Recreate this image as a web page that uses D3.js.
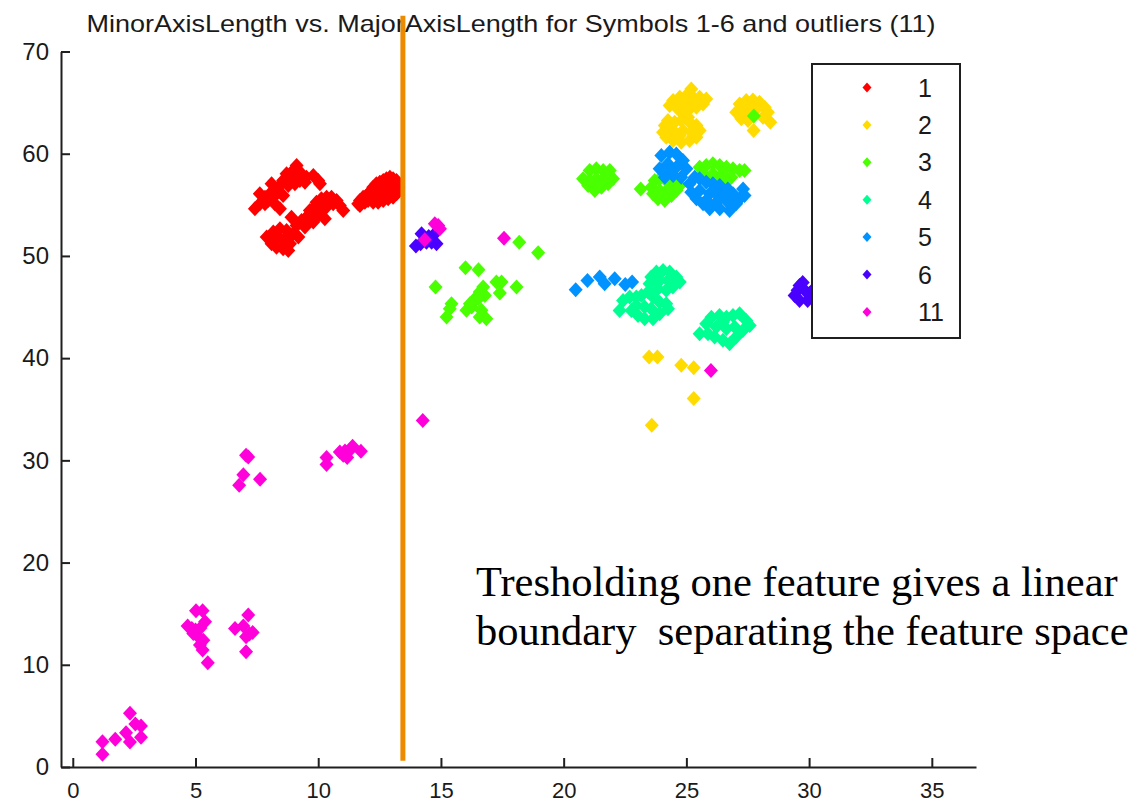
<!DOCTYPE html>
<html>
<head>
<meta charset="utf-8">
<script src="https://cdn.jsdelivr.net/npm/d3@7"></script>
<style>
  body { margin: 0; background: #fff; }
  text { font-family: "Liberation Sans", Arial, sans-serif; fill: #1a1a1a; }
</style>
</head>
<body>
<div id="chart"></div>
<script>
// ********** DATA **********
const classLabels = ['1', '2', '3', '4', '5', '6', '11'];
const classColors = ['#ff0000', '#ffdb00', '#49ff00', '#00ff92', '#0092ff', '#4900ff', '#ff00db'];

// [MajorAxisLength, MinorAxisLength]
const pointsClass1 = [
  [7.42,54.61],[7.62,55.10],[7.83,55.75],[8.03,56.08],[8.10,57.05],[8.30,56.40],[8.44,56.89],[8.57,57.38],
  [8.71,58.03],[8.85,57.54],[8.98,58.36],[9.12,58.85],[9.18,57.87],[9.32,58.03],[9.46,57.22],[9.05,57.05],
  [8.23,55.10],[8.44,54.61],[7.83,55.10],[7.62,56.08],[8.57,55.91],[7.96,55.42],[8.17,55.75],[8.78,56.89],
  [9.25,57.38],[9.39,57.70],[9.52,57.70],[9.80,57.87],[10.00,57.38],[10.07,57.05],
  [7.90,51.84],[8.10,51.19],[8.30,50.86],[8.57,50.70],[8.78,50.54],[8.17,52.33],[8.44,52.65],[8.71,52.49],
  [8.85,51.84],[8.98,52.16],[9.12,52.98],[9.32,53.47],[9.52,53.79],[9.66,54.45],[9.80,54.61],[9.93,55.26],
  [10.13,55.59],[10.34,55.75],[10.54,55.75],[10.75,55.42],[10.88,54.93],[11.02,54.45],[10.27,54.61],[10.07,54.45],
  [10.27,53.63],[9.80,53.31],[9.93,53.79],[9.46,52.82],[9.19,51.84],[8.57,51.51],[8.85,51.19],[10.41,55.10],
  [10.61,55.10],[10.00,55.10],[8.91,53.79],[8.30,52.00],[8.03,51.68],
  [11.70,55.42],[11.63,55.10],[11.83,55.75],[11.97,55.91],[12.10,56.24],[12.24,56.73],[12.37,57.05],[12.51,57.22],
  [12.65,57.38],[12.78,57.54],[12.92,57.70],[13.05,57.54],[13.19,57.38],[13.26,56.73],[13.19,56.08],[13.05,55.75],
  [12.85,55.59],[12.65,55.42],[12.44,55.26],[12.24,55.26],[12.03,55.42],[12.24,56.08],[12.51,56.40],[12.78,56.56],
  [12.99,56.73],[12.65,56.08],[12.37,55.91],[12.92,56.08],[13.12,56.89],[11.90,55.26],[11.70,54.93]
];
const pointsClass2 = [
  [25.20,66.34],[24.46,65.20],[24.73,65.52],[25.00,65.69],[25.27,65.52],[25.54,65.52],[25.81,65.36],[25.68,64.87],
  [25.41,64.55],[25.13,64.38],[24.86,64.55],[24.59,64.55],[24.32,64.71],[25.00,65.03],[25.34,65.03],[24.86,63.89],
  [25.07,63.57],
  [24.12,62.76],[24.25,63.24],[24.52,63.08],[24.79,63.24],[25.13,63.08],[25.41,62.76],[25.54,62.26],[25.41,61.61],
  [25.13,61.29],[24.79,61.13],[24.46,61.29],[24.18,61.61],[24.05,62.10],[24.46,62.26],[24.86,62.26],[25.20,62.10],
  [24.73,61.78],
  [27.17,64.87],[27.44,65.20],[27.71,65.26],[27.98,65.03],[28.19,64.55],[28.32,64.06],[27.03,64.06],[27.24,63.41],
  [27.51,63.24],[27.44,64.22],[27.85,64.38],[28.12,63.57],[27.74,62.26],[28.42,63.08],[27.70,64.80],
  [23.48,40.12],[23.82,40.12],[24.79,39.30],[25.30,39.07],[25.30,36.04],[23.59,33.43]
];
const pointsClass3 = [
  [18.19,51.35],[18.96,50.31],[16.00,48.85],[16.53,48.65],[14.78,46.96],[17.26,47.44],[17.47,47.44],[18.08,46.96],
  [17.40,46.37],[16.72,46.96],[16.58,46.47],[16.79,46.14],[16.45,45.98],[16.31,45.49],[16.25,45.00],[16.04,44.68],
  [15.43,45.33],[15.36,44.84],[15.23,44.02],[16.65,44.68],[16.58,44.02],[16.85,43.86],[16.52,45.82],[16.18,45.33],
  [20.79,57.54],[21.06,58.36],[21.33,58.52],[21.61,58.36],[21.88,58.36],[22.01,57.54],[21.81,57.05],[21.54,56.73],
  [21.27,56.40],[21.00,56.89],[21.33,57.54],[21.61,57.54],[21.06,57.38],[21.81,57.70],[21.40,56.89],
  [23.14,56.56],
  [23.57,56.73],[23.71,57.38],[23.91,57.54],[24.18,57.38],[24.46,57.38],[24.73,56.89],[24.59,56.40],[24.39,55.91],
  [24.12,55.42],[23.84,55.59],[23.64,56.08],[23.91,56.40],[24.25,56.56],[24.05,55.91],
  [25.54,58.68],[25.81,58.85],[26.08,59.01],[26.36,58.85],[26.63,58.68],[26.90,58.52],[27.17,58.36],[27.37,58.36],
  [25.68,58.03],[26.08,58.03],[26.49,58.03],[26.83,57.70],[26.63,57.22],[26.36,57.54],[25.81,57.54],
  [27.75,63.70]
];
const pointsClass4 = [
  [23.57,47.93],[23.78,48.42],[24.05,48.58],[24.32,48.42],[24.59,47.93],[24.73,47.44],[24.45,46.95],[24.18,46.63],
  [23.84,46.79],[23.50,47.28],[23.91,47.60],[24.25,47.60],
  [22.28,44.67],[22.42,45.65],[22.69,45.97],[22.96,45.97],[23.17,46.14],[23.44,46.46],[23.64,45.97],[23.91,45.48],
  [24.18,45.32],[24.25,44.83],[23.91,44.34],[23.64,43.86],[23.30,43.86],[23.03,44.18],[22.76,44.67],[22.96,45.16],
  [23.30,45.00],[23.57,44.83],
  [25.54,42.39],[25.81,43.37],[26.02,44.00],[26.35,44.18],[26.63,44.00],[26.90,44.18],[27.17,44.34],[27.44,43.69],
  [27.58,43.20],[27.30,42.71],[27.03,42.06],[26.76,41.41],[26.49,41.74],[26.15,42.06],[25.88,42.39],[26.22,43.04],
  [26.63,42.88],[26.97,43.04],[26.49,43.53]
];
const pointsClass5 = [
  [20.49,46.69],[20.97,47.60],[21.47,47.93],[21.67,47.28],[22.08,47.77],[22.51,47.21],[22.79,47.44],
  [23.98,59.82],[24.32,60.15],[24.59,59.98],[24.86,59.33],[25.00,58.52],[24.79,57.70],[24.46,57.87],[24.12,57.70],
  [23.91,58.52],[24.25,59.01],[24.59,58.68],[24.39,58.36],
  [25.13,57.05],[25.34,57.70],[25.54,57.54],[25.81,57.22],[26.08,57.05],[26.36,56.89],[26.69,56.56],[26.90,56.08],
  [27.17,55.59],[27.31,56.56],[27.37,55.91],[27.03,55.10],[26.76,54.45],[26.36,54.61],[25.95,54.61],[25.68,55.10],
  [25.41,55.59],[25.20,56.24],[25.54,56.40],[25.95,56.08],[26.36,55.75],[26.69,55.26],[25.81,55.42],[26.22,55.26],
  [26.15,56.40],[26.56,56.08]
];
const pointsClass6 = [
  [14.21,52.17],[13.98,50.96],[14.68,52.00],[14.62,51.35],[14.82,51.19],[14.41,51.35],[14.17,51.19],[14.50,51.90],
  [29.61,47.10],[29.82,46.63],[29.41,46.14],[29.94,45.65],[29.61,45.65],[29.74,47.41],[29.53,46.63],[30.02,46.33],
  [30.20,46.80],[30.30,45.90]
];
const pointsClass11 = [
  [1.21,1.24],[1.21,2.47],[1.73,2.71],[2.17,3.35],[2.33,5.25],[2.33,2.44],[2.55,4.20],[2.78,4.00],[2.78,2.90],
  [5.02,15.28],[5.29,15.28],[4.68,13.80],[5.39,14.20],[4.91,13.07],[5.11,12.74],[5.32,12.41],[5.18,11.93],
  [5.29,11.44],[5.50,10.20],[4.85,13.56],[5.00,13.40],[5.20,13.60],
  [6.61,13.56],[6.95,13.80],[7.15,14.86],[7.33,13.17],[7.06,12.74],[7.06,11.27],[7.20,13.00],
  [7.06,30.50],[7.15,30.33],[6.95,28.60],[6.78,27.57],[7.63,28.15],
  [10.34,30.27],[10.34,29.59],[10.88,30.82],[11.02,30.50],[11.18,30.27],[11.40,31.38],[11.29,30.99],[11.09,30.92],
  [11.74,30.89],
  [14.89,52.98],[14.96,52.66],[14.34,51.58],[14.75,53.15],
  [17.57,51.74],[14.26,33.90],[26.00,38.80]
];

const xTicks = [0, 5, 10, 15, 20, 25, 30, 35];
const yTicks = [0, 10, 20, 30, 40, 50, 60, 70];
const xDomain = [-0.48, 36.8];
const yDomain = [0, 70];

// threshold on MajorAxisLength, drawn from just above 0 to above the plot top
const thresholdX = 13.45;
const thresholdSpan = [0.6, 73.5];

const titleText = 'MinorAxisLength vs. MajorAxisLength for Symbols 1-6 and outliers (11)';
const noteLines = ['Tresholding one feature gives a linear', 'boundary  separating the feature space'];

// ********** SETUP **********
const width = 1140;
const height = 803;

const svg = d3.select('#chart').append('svg')
  .attr('width', width)
  .attr('height', height);

const x = d3.scaleLinear().domain(xDomain).range([61, 976]);
const y = d3.scaleLinear().domain(yDomain).range([767, 51.5]);

const allPoints = [pointsClass1, pointsClass2, pointsClass3, pointsClass4, pointsClass5, pointsClass6, pointsClass11];
const series = classLabels.map((label, i) => ({ label: label, color: classColors[i], points: allPoints[i] }));

// diamond marker, w = half width, h = half height
function diamond(w, h) {
  return `M0,${-h}L${w},0L0,${h}L${-w},0Z`;
}

// title
svg.append('text')
  .attr('x', 511)
  .attr('y', 32)
  .attr('text-anchor', 'middle')
  .attr('textLength', 849)
  .attr('lengthAdjust', 'spacingAndGlyphs')
  .style('font-size', '24px')
  .text(titleText);

// ********** AXES **********
const xAxis = svg.append('g')
  .attr('transform', `translate(0, ${y(0)})`)
  .call(d3.axisBottom(x).tickValues(xTicks).tickSize(-9).tickSizeOuter(0).tickPadding(15));

const yAxis = svg.append('g')
  .attr('transform', `translate(${x.range()[0]}, 0)`)
  .call(d3.axisLeft(y).tickValues(yTicks).tickSize(-9).tickSizeOuter(0).tickPadding(12));

[xAxis, yAxis].forEach(g => {
  g.selectAll('path, line').attr('stroke', '#1f1f1f').attr('stroke-width', 2);
  g.selectAll('text').style('fill', '#1a1a1a').attr('font-family', '"Liberation Sans", Arial, sans-serif');
});
xAxis.selectAll('text').style('font-size', '22px');
yAxis.selectAll('text').style('font-size', '24px');

// ********** POINTS **********
const groups = svg.append('g').selectAll('g')
  .data(series)
  .join('g')
  .attr('fill', d => d.color);

groups.selectAll('path')
  .data(d => d.points)
  .join('path')
  .attr('transform', d => `translate(${x(d[0])}, ${y(d[1])})`)
  .attr('d', diamond(7, 7.5));

// ********** THRESHOLD LINE **********
svg.append('line')
  .attr('x1', x(thresholdX))
  .attr('x2', x(thresholdX))
  .attr('y1', y(thresholdSpan[1]))
  .attr('y2', y(thresholdSpan[0]))
  .attr('stroke', '#ec8b00')
  .attr('stroke-width', 5);

// ********** LEGEND **********
const legend = svg.append('g').attr('transform', 'translate(812, 64)');

legend.append('rect')
  .attr('width', 148)
  .attr('height', 274)
  .attr('fill', '#fff')
  .attr('stroke', '#1f1f1f')
  .attr('stroke-width', 2);

const entries = legend.selectAll('.entry')
  .data(series)
  .join('g')
  .attr('class', 'entry')
  .attr('transform', (d, i) => `translate(0, ${23.5 + i * 37.4})`);

entries.append('path')
  .attr('transform', 'translate(55, 0)')
  .attr('d', diamond(4.5, 5))
  .attr('fill', d => d.color);

entries.append('text')
  .attr('x', 106)
  .attr('y', 9)
  .style('font-size', '25px')
  .text(d => d.label);

// ********** NOTE **********
svg.append('g').selectAll('text')
  .data(noteLines)
  .join('text')
  .attr('x', 476)
  .attr('y', (d, i) => 596 + i * 49)
  .style('font-family', '"Liberation Serif", "Times New Roman", serif')
  .style('font-size', '42.5px')
  .style('white-space', 'pre')
  .style('fill', '#000')
  .text(d => d);
</script>
</body>
</html>
